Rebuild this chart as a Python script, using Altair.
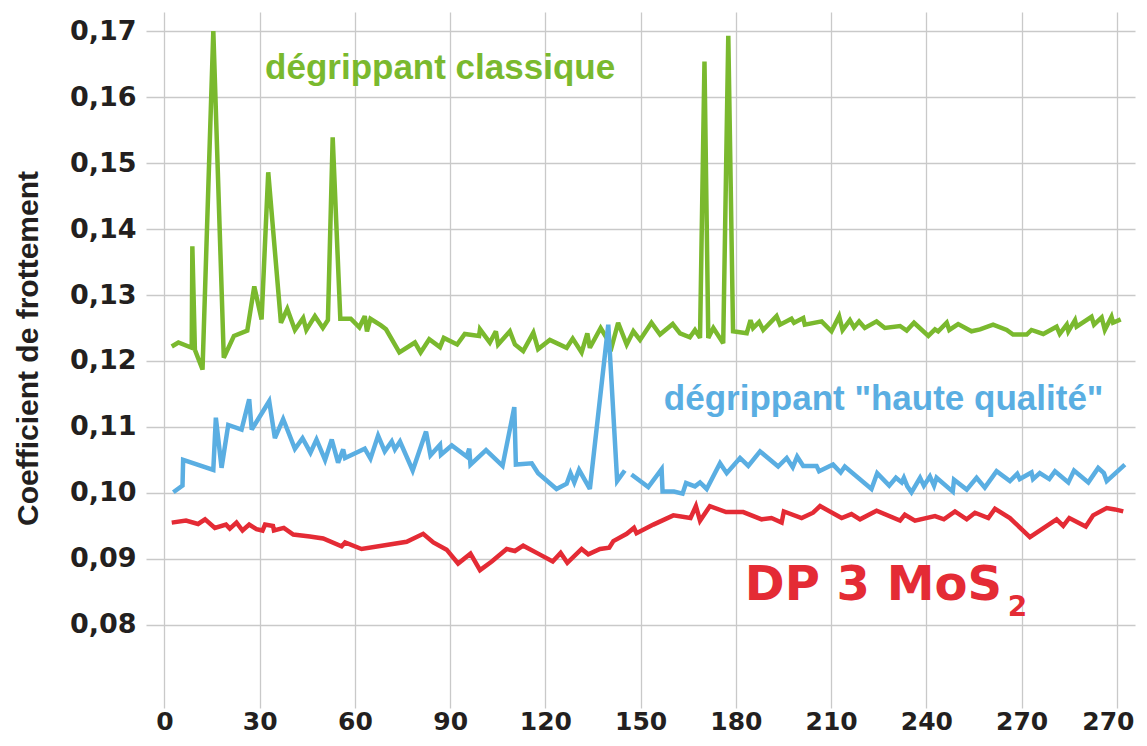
import altair as alt
import pandas as pd

# ---------------- data ----------------
green_x = [2.3, 4.4, 8.6, 8.8, 9.6, 12.0, 15.4, 18.7, 21.9, 26.1,
           28.3, 30.6, 32.7, 36.7, 38.7, 41.1, 43.7, 44.7, 47.4, 49.9,
           51.5, 53.0, 55.4, 58.7, 61.4, 63.1, 63.8, 64.9, 68.2, 69.8,
           74.0, 78.9, 80.7, 83.4, 86.8, 88.0, 92.2, 94.6, 99.1, 99.4,
           102.5, 104.4, 105.1, 108.8, 110.4, 113.0, 116.2, 117.7, 121.4, 126.7,
           128.6, 131.4, 133.2, 134.0, 137.4, 140.9, 142.9, 145.6, 147.7, 149.8,
           153.4, 156.1, 160.1, 162.4, 165.5, 167.1, 168.7, 170.1, 171.3, 172.9,
           176.0, 177.6, 179.1, 183.4, 184.6, 185.4, 187.3, 188.6, 192.8, 193.9,
           197.5, 198.3, 201.2, 201.7, 207.0, 210.1, 212.5, 213.6, 215.9, 217.2,
           218.8, 220.6, 224.3, 226.9, 231.7, 233.8, 236.1, 240.6, 242.7, 243.7,
           246.4, 247.2, 250.0, 254.2, 256.9, 261.0, 265.3, 267.3, 271.6, 273.1,
           276.8, 281.0, 282.0, 284.2, 284.7, 286.8, 287.3, 292.0, 292.8, 295.2,
           296.2, 298.3, 298.8, 301.2]
green_y = [0.1222, 0.1228, 0.1220, 0.1374, 0.1217, 0.1187, 0.1700, 0.1205, 0.1238, 0.1246,
           0.1313, 0.1263, 0.1486, 0.1258, 0.1279, 0.1247, 0.1265, 0.1247, 0.1268, 0.1250,
           0.1262, 0.1539, 0.1264, 0.1264, 0.1251, 0.1268, 0.1245, 0.1264, 0.1254, 0.1248,
           0.1213, 0.1228, 0.1213, 0.1233, 0.1221, 0.1235, 0.1225, 0.1241, 0.1238, 0.1248,
           0.1228, 0.1245, 0.1225, 0.1245, 0.1225, 0.1215, 0.1243, 0.1218, 0.1232, 0.1220,
           0.1234, 0.1213, 0.1242, 0.1220, 0.1250, 0.1222, 0.1258, 0.1225, 0.1245, 0.1232,
           0.1258, 0.1240, 0.1256, 0.1242, 0.1236, 0.1247, 0.1235, 0.1654, 0.1235, 0.1250,
           0.1227, 0.1693, 0.1245, 0.1242, 0.1262, 0.1250, 0.1259, 0.1247, 0.1268, 0.1255,
           0.1264, 0.1258, 0.1265, 0.1255, 0.1260, 0.1245, 0.1268, 0.1247, 0.1262, 0.1251,
           0.1260, 0.1250, 0.1260, 0.1250, 0.1253, 0.1246, 0.1258, 0.1238, 0.1248, 0.1245,
           0.1258, 0.1247, 0.1256, 0.1245, 0.1248, 0.1255, 0.1247, 0.1240, 0.1240, 0.1247,
           0.1241, 0.1252, 0.1241, 0.1255, 0.1245, 0.1262, 0.1252, 0.1267, 0.1255, 0.1266,
           0.1247, 0.1267, 0.1258, 0.1263]

# blue curve, first part (before the small gap) and second part
blue_a_x = [2.8, 5.7, 5.9, 15.4, 16.2, 18.0, 20.1, 24.3, 26.7, 27.5,
            33.0, 34.8, 37.4, 41.1, 43.5, 46.0, 47.9, 50.6, 52.7, 54.7,
            56.3, 56.9, 63.1, 64.9, 67.3, 69.4, 71.6, 72.6, 74.2, 78.2,
            82.4, 83.8, 86.8, 87.1, 90.5, 95.2, 96.0, 96.4, 101.3, 106.5,
            110.2, 110.7, 115.7, 117.7, 123.5, 126.7, 127.9, 129.1, 130.6, 134.0,
            139.8, 142.6, 145.0]
blue_a_y = [0.1001, 0.1011, 0.1050, 0.1035, 0.1114, 0.1038, 0.1103, 0.1096, 0.1142, 0.1096,
            0.1139, 0.1083, 0.1112, 0.1067, 0.1083, 0.1061, 0.1081, 0.1050, 0.1081, 0.1046,
            0.1066, 0.1053, 0.1067, 0.1052, 0.1087, 0.1063, 0.1078, 0.1066, 0.1078, 0.1034,
            0.1093, 0.1057, 0.1073, 0.1058, 0.1072, 0.1055, 0.1067, 0.1043, 0.1065, 0.1041,
            0.1130, 0.1043, 0.1045, 0.1030, 0.1006, 0.1014, 0.1030, 0.1016, 0.1035, 0.1006,
            0.1255, 0.1018, 0.1034]
blue_b_x = [147.1, 152.4, 156.6, 156.9, 160.5, 163.2, 164.3,
            167.1, 168.7, 170.8, 175.0, 177.1, 181.3, 183.9, 187.6, 193.3, 196.0,
            197.9, 199.3, 201.2, 205.4, 206.2, 210.6, 213.0, 214.3, 222.7, 224.5,
            228.3, 230.4, 232.2, 232.9, 234.0, 235.3, 238.0, 239.2, 241.1, 242.4,
            243.2, 248.3, 248.7, 252.7, 255.8, 258.4, 262.1, 266.3, 268.6, 269.4,
            273.1, 273.6, 275.7, 278.7, 280.5, 284.7, 286.5, 291.0, 294.1, 295.9,
            296.8, 302.5]
blue_b_y = [0.1028, 0.1009, 0.1036, 0.1002, 0.1002, 0.0999, 0.1015,
            0.1010, 0.1016, 0.1006, 0.1045, 0.1030, 0.1053, 0.1041, 0.1063, 0.1040, 0.1053,
            0.1039, 0.1055, 0.1041, 0.1041, 0.1033, 0.1043, 0.1031, 0.1040, 0.1006, 0.1030,
            0.1011, 0.1023, 0.1016, 0.1023, 0.1010, 0.1001, 0.1023, 0.1011, 0.1025, 0.1011,
            0.1023, 0.1002, 0.1020, 0.1005, 0.1023, 0.1008, 0.1033, 0.1018, 0.1029, 0.1021,
            0.1031, 0.1021, 0.1030, 0.1021, 0.1033, 0.1016, 0.1034, 0.1016, 0.1038, 0.1030,
            0.1018, 0.1043]

red_x = [2.3, 6.8, 10.6, 12.8, 15.9, 19.4, 20.6, 22.7, 24.6, 26.7,
         29.0, 30.9, 31.7, 34.2, 34.5, 37.6, 40.6, 45.8, 50.0, 55.8,
         56.9, 62.1, 76.3, 81.5, 84.7, 88.9, 92.5, 96.4, 99.4, 103.1,
         107.8, 110.4, 113.0, 117.7, 122.3, 124.8, 126.9, 131.4, 133.5, 137.2,
         140.1, 141.4, 145.6, 147.9, 148.7, 154.0, 160.3, 165.7, 167.4, 168.7,
         171.8, 176.9, 182.3, 188.1, 191.2, 194.4, 195.1, 200.7, 204.3, 206.5,
         213.3, 216.4, 219.1, 224.3, 231.7, 233.2, 236.4, 242.7, 245.5, 249.0,
         252.7, 255.3, 259.5, 261.6, 266.3, 272.6, 281.0, 283.1, 285.0, 290.2,
         292.5, 296.8, 299.4, 302.0]
red_y = [0.0955, 0.0958, 0.0953, 0.0960, 0.0947, 0.0952, 0.0946, 0.0955, 0.0943, 0.0952,
         0.0945, 0.0943, 0.0952, 0.0950, 0.0943, 0.0947, 0.0937, 0.0934, 0.0931, 0.0919,
         0.0925, 0.0915, 0.0926, 0.0938, 0.0925, 0.0914, 0.0893, 0.0908, 0.0883, 0.0896,
         0.0915, 0.0912, 0.0920, 0.0908, 0.0896, 0.0909, 0.0894, 0.0915, 0.0907, 0.0915,
         0.0917, 0.0927, 0.0938, 0.0947, 0.0939, 0.0952, 0.0966, 0.0962, 0.0980, 0.0958,
         0.0980, 0.0971, 0.0971, 0.0960, 0.0962, 0.0955, 0.0972, 0.0962, 0.0970, 0.0980,
         0.0962, 0.0968, 0.0960, 0.0973, 0.0958, 0.0967, 0.0958, 0.0965, 0.0960, 0.0972,
         0.0960, 0.0970, 0.0962, 0.0976, 0.0962, 0.0933, 0.0960, 0.0950, 0.0962, 0.0949,
         0.0966, 0.0977, 0.0975, 0.0972]

x_ticks = [0, 30, 60, 90, 120, 150, 180, 210, 240, 270, 300]
y_ticks = [0.08, 0.09, 0.10, 0.11, 0.12, 0.13, 0.14, 0.15, 0.16, 0.17]

label_green = "dégrippant classique"
label_blue = 'dégrippant "haute qualité"'
label_red = "DP 3 MoS"
label_red_sub = "2"
y_title = "Coefficient de frottement"

# ---------------- styles ----------------
GREEN = "#7ab92e"
BLUE = "#5aaee2"
RED = "#e42b35"
DARK = "#231f20"
GRID = "#c9c9c9"
SANS = "Liberation Sans"
WIDE = "DejaVu Sans"


def frame(xs, ys, seg=1):
    return pd.DataFrame({"x": xs, "y": ys, "i": list(range(len(xs))), "seg": seg})


df_green = frame(green_x, green_y)
df_blue = pd.concat([frame(blue_a_x, blue_a_y, 1), frame(blue_b_x, blue_b_y, 2)], ignore_index=True)
df_red = frame(red_x, red_y)

x_scale = alt.Scale(domain=[-5.8, 305.7], nice=False, zero=False)
y_scale = alt.Scale(domain=[0.0674, 0.1729], nice=False, zero=False)

x_axis = alt.Axis(
    values=x_ticks,
    labelExpr="datum.value == 300 ? '270' : datum.label",
    labelOffset={"condition": {"test": "datum.value == 300", "value": -9}, "value": 0},
    grid=True, gridColor=GRID, gridWidth=1.3,
    ticks=False, tickSize=0, domain=False,
    labelFont=WIDE, labelFontWeight="bold", labelFontSize=25,
    labelColor=DARK, labelPadding=1, labelFlush=False, labelOverlap=False,
    title=None,
)
y_axis = alt.Axis(
    values=y_ticks,
    labelExpr="replace(format(datum.value, '.2f'), '.', ',')",
    grid=True, gridColor=GRID, gridWidth=1.3,
    ticks=False, tickSize=0, domain=False,
    labelFont=WIDE, labelFontWeight="bold", labelFontSize=27,
    labelColor=DARK, labelPadding=10, labelFlush=False, labelOverlap=False,
    title=y_title, titleFont=SANS, titleFontSize=30,
    titleFontWeight="bold", titleColor=DARK, titleAngle=270,
    titleX=-118, titleY=336, titleAlign="center", titleBaseline="middle",
)


def line(df, color):
    return alt.Chart(df).mark_line(
        color=color, strokeWidth=4.5, strokeJoin="miter", strokeMiterLimit=3
    ).encode(
        x=alt.X("x:Q", scale=x_scale, axis=x_axis),
        y=alt.Y("y:Q", scale=y_scale, axis=y_axis),
        detail="seg:N",
        order="i:Q",
    )


def text(txt, x, y, color, font, size):
    df = pd.DataFrame({"x": [x], "y": [y], "t": [txt]})
    return alt.Chart(df).mark_text(
        align="left", baseline="alphabetic", color=color,
        font=font, fontSize=size, fontWeight="bold",
    ).encode(x=alt.X("x:Q", scale=x_scale), y=alt.Y("y:Q", scale=y_scale), text="t:N")


chart = alt.layer(
    line(df_green, GREEN),
    line(df_blue, BLUE),
    line(df_red, RED),
    text(label_green, 31.7, 0.1627, GREEN, SANS, 35),
    text(label_blue, 157.3, 0.1126, BLUE, SANS, 35),
    text(label_red, 182.8, 0.0838, RED, WIDE, 48),
    text(label_red_sub, 265.6, 0.0814, RED, WIDE, 28),
).properties(
    width=989, height=696,
    autosize=alt.AutoSizeParams(type="none"),
    padding={"left": 138, "top": 4, "right": 4, "bottom": 30},
    background="white",
).configure_view(stroke=None)

chart.save("out.html", embed_options={"renderer": "svg", "actions": False})
